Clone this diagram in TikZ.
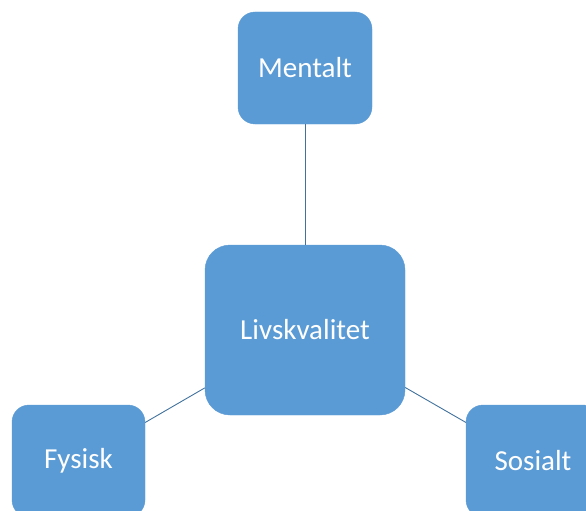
\documentclass[tikz,border=0pt]{standalone}
\usepackage{fontspec}
\setmainfont{Carlito}
\definecolor{boxblue}{HTML}{5B9BD5}
\definecolor{lineblue}{HTML}{41719C}

\begin{document}
\begin{tikzpicture}[x=1pt, y=-1pt,
        area/.style={rectangle, rounded corners=17pt, fill=boxblue, draw=boxblue, text=white,
            font=\fontsize{29}{34}\selectfont, minimum width=134pt, minimum height=112pt, inner sep=0pt},
        link/.style={draw=lineblue, line width=0.9pt}]
        \useasboundingbox (0,0) rectangle (586,511);
        \clip (0,0) rectangle (586,511);

        \node[area, rounded corners=25pt, minimum width=200pt, minimum height=170pt](livskvalitet) at (305,330) {Livskvalitet};
        \node[area](mentalt) at (305,68) {Mentalt};
        \node[area, minimum width=133pt](fysisk) at (78.5,461) {Fysisk};
        \node[area](sosialt) at (533,461) {Sosialt};

        \foreach \n in {mentalt, fysisk, sosialt} {
                \draw[link] (\n) -- (livskvalitet);
            }
    \end{tikzpicture}
\end{document}
